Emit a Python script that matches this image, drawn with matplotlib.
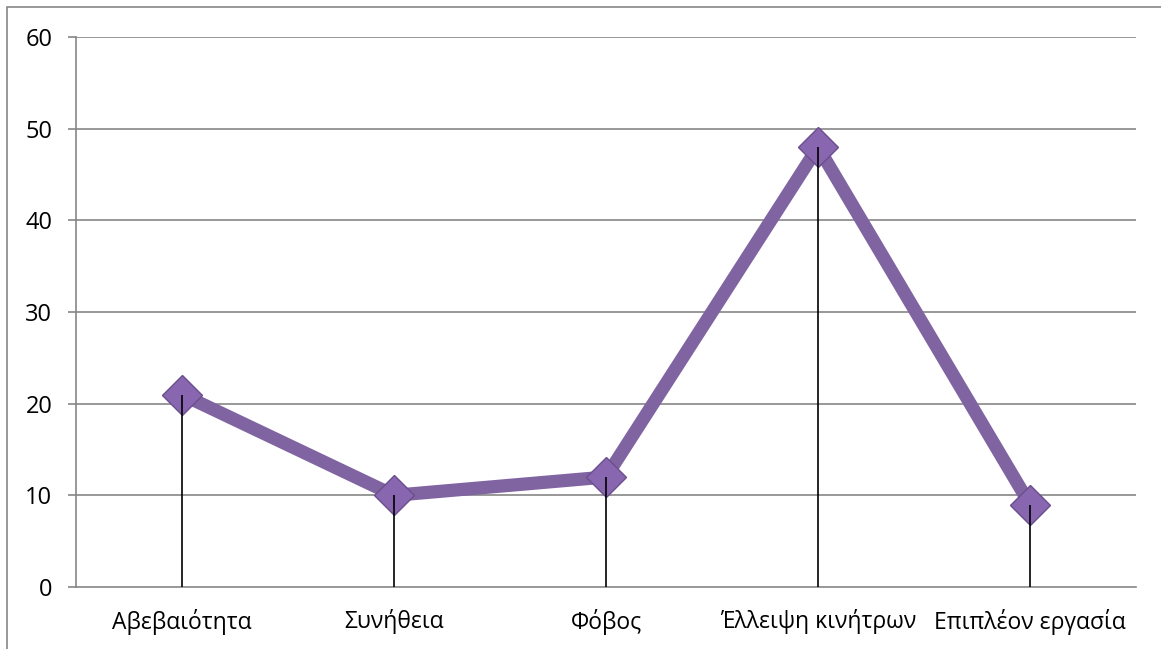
import matplotlib.pyplot as plt
from matplotlib.patches import Rectangle

# categories and values
categories = ["Αβεβαιότητα", "Συνήθεια", "Φόβος", "Έλλειψη κινήτρων", "Επιπλέον εργασία"]
values = [21, 10, 12, 48, 9]
yticks = [0, 10, 20, 30, 40, 50, 60]

plt.rcParams['font.family'] = ['Open Sans', 'DejaVu Sans']

W, H = 1161, 649
fig = plt.figure(figsize=(W / 100, H / 100), dpi=100)

# thin outer frame (only top/left visible in the reference)
fig.patches.append(Rectangle((7 / W, -0.01), 1.02, (H - 7) / H + 0.01,
                             transform=fig.transFigure, fill=False,
                             edgecolor='#868686', linewidth=1.2))

ax = fig.add_axes([76 / W, (H - 587) / H, (1136 - 76) / W, (587 - 37) / H])

x = list(range(len(categories)))

for yv in yticks[1:]:
    ax.axhline(yv, color='#868686', linewidth=1.2, zorder=1)

line_color = '#8064A2'
ax.plot(x, values, color=line_color, linewidth=9.5, solid_capstyle='round',
        solid_joinstyle='round', zorder=3)
ax.plot(x, values, linestyle='none', marker='D', markersize=20,
        markerfacecolor='#8866B0', markeredgecolor='#6A4F8C',
        markeredgewidth=1.0, zorder=4)
# drop lines drawn over markers as in the reference
ax.vlines(x, 0, values, color='black', linewidth=1.2, zorder=5)

ax.set_xlim(-0.5, len(categories) - 0.5)
ax.set_ylim(0, 60)
ax.set_yticks(yticks)
ax.set_xticks(x)
ax.set_xticklabels(categories, fontsize=16.5)
ax.tick_params(axis='y', labelsize=17, length=6, width=1.2, color='#868686', pad=11)
ax.tick_params(axis='x', length=0, pad=16)

for side in ['top', 'right']:
    ax.spines[side].set_visible(False)
for side in ['left', 'bottom']:
    ax.spines[side].set_color('#868686')
    ax.spines[side].set_linewidth(1.2)

fig.savefig('out.png', dpi=100)
